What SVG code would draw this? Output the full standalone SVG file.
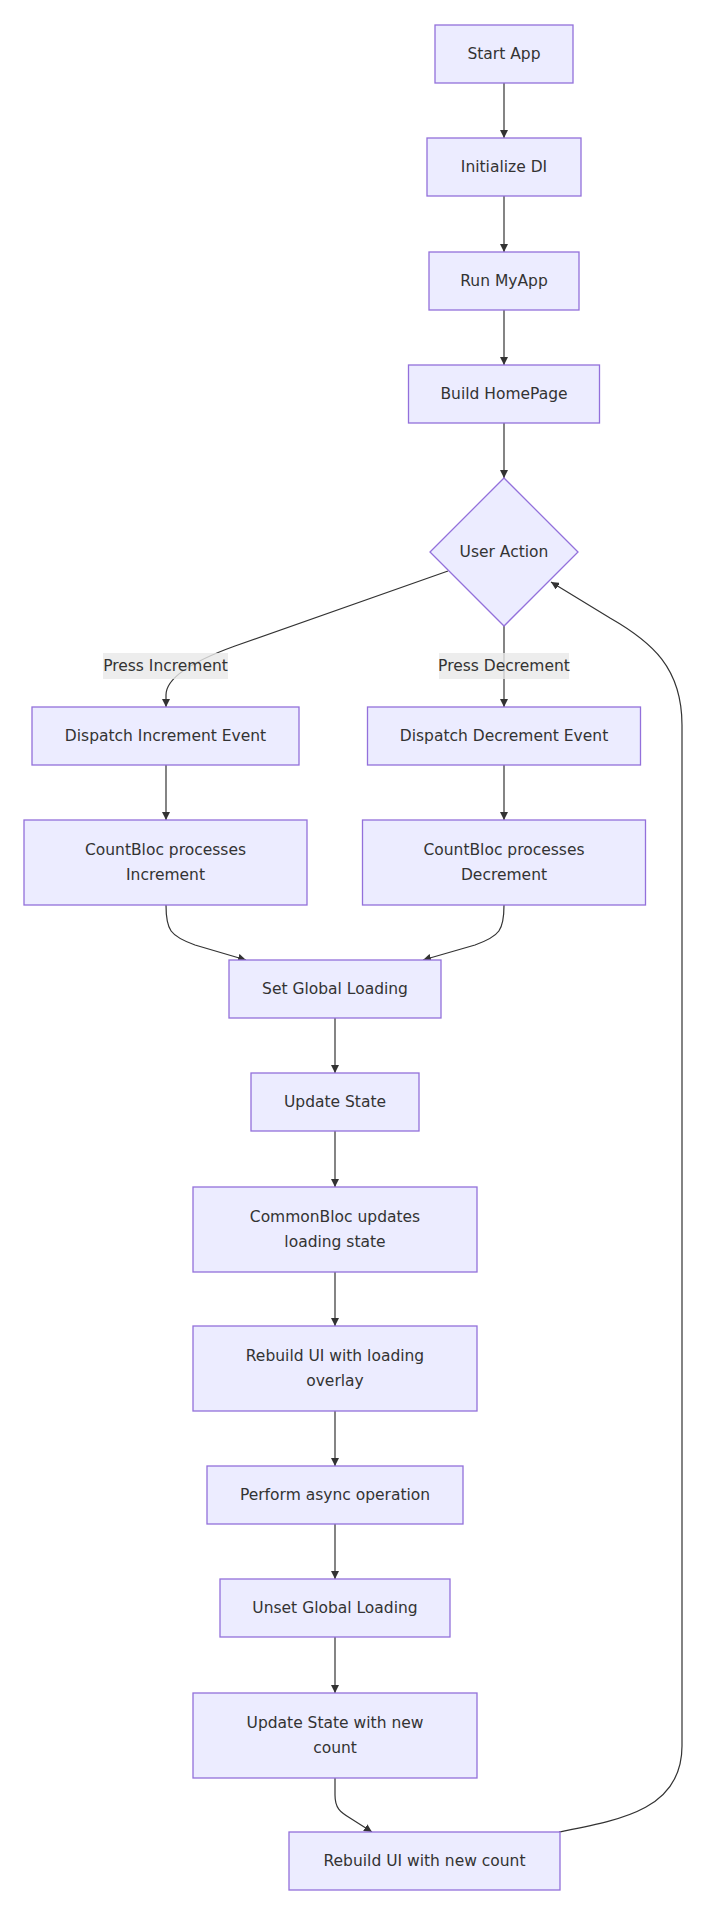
<svg xmlns="http://www.w3.org/2000/svg" width="714" height="1906" viewBox="0 0 714 1906">
<style>
.node rect,.node polygon{fill:#ECECFF;stroke:#9370DB;stroke-width:1.3px;}
.node text,.lbl text{font-family:"DejaVu Sans","Liberation Sans",sans-serif;font-size:15.5px;fill:#333333;text-anchor:middle;}
.edge{fill:none;stroke:#333333;stroke-width:1.2px;}
.lbl rect{fill:#e8e8e8;opacity:0.8;}
</style>
<defs>
<marker id="arr" viewBox="0 0 10 10" refX="10" refY="5" markerWidth="8" markerHeight="8" markerUnits="userSpaceOnUse" orient="auto">
<path d="M0,0 L10,5 L0,10 z" fill="#333333"/>
</marker>
</defs>
<rect width="714" height="1906" fill="#ffffff"/>
<g id="edges">
<path class="edge" marker-end="url(#arr)" d="M504,83 L504,138"/>
<path class="edge" marker-end="url(#arr)" d="M504,196 L504,252"/>
<path class="edge" marker-end="url(#arr)" d="M504,310 L504,365"/>
<path class="edge" marker-end="url(#arr)" d="M504,423 L504,478"/>
<path class="edge" marker-end="url(#arr)" d="M448,571 L235,646 Q166,671 166,695 L166,707"/>
<path class="edge" marker-end="url(#arr)" d="M504,626 L504,707"/>
<path class="edge" marker-end="url(#arr)" d="M166,765 L166,820"/>
<path class="edge" marker-end="url(#arr)" d="M504,765 L504,820"/>
<path class="edge" marker-end="url(#arr)" d="M166,905 C166,930 170,936 195,945 L246,960"/>
<path class="edge" marker-end="url(#arr)" d="M504,905 C504,930 500,936 475,945 L423,960"/>
<path class="edge" marker-end="url(#arr)" d="M335,1018 L335,1073"/>
<path class="edge" marker-end="url(#arr)" d="M335,1131 L335,1187"/>
<path class="edge" marker-end="url(#arr)" d="M335,1272 L335,1326"/>
<path class="edge" marker-end="url(#arr)" d="M335,1411 L335,1466"/>
<path class="edge" marker-end="url(#arr)" d="M335,1524 L335,1579"/>
<path class="edge" marker-end="url(#arr)" d="M335,1637 L335,1693"/>
<path class="edge" marker-end="url(#arr)" d="M335,1778 L335,1795 C335,1808 340,1812 350,1818 L372,1832"/>
<path class="edge" marker-end="url(#arr)" d="M559,1832 C620,1820 682,1810 682,1746 L682,725 C682,668 652,642 610,618 L551,582"/>
</g>
<g class="lbl" id="label-inc"><rect x="103" y="653" width="125" height="26"/><text x="165.5" y="671">Press Increment</text></g>
<g class="lbl" id="label-dec"><rect x="439" y="653" width="130" height="26"/><text x="504" y="671">Press Decrement</text></g>
<g class="node" id="start"><rect x="435" y="25" width="138" height="58"/><text x="504" y="59">Start App</text></g>
<g class="node" id="init"><rect x="427" y="138" width="154" height="58"/><text x="504" y="172">Initialize DI</text></g>
<g class="node" id="run"><rect x="429" y="252" width="150" height="58"/><text x="504" y="286">Run MyApp</text></g>
<g class="node" id="build"><rect x="408.5" y="365" width="191" height="58"/><text x="504" y="399">Build HomePage</text></g>
<g class="node" id="action"><polygon points="504,478 578,552 504,626 430,552"/><text x="504" y="557">User Action</text></g>
<g class="node" id="dispInc"><rect x="32" y="707" width="267" height="58"/><text x="165.5" y="741">Dispatch Increment Event</text></g>
<g class="node" id="dispDec"><rect x="367.5" y="707" width="273" height="58"/><text x="504" y="741">Dispatch Decrement Event</text></g>
<g class="node" id="cbInc"><rect x="24" y="820" width="283" height="85"/><text x="165.5" y="855">CountBloc processes</text><text x="165.5" y="880">Increment</text></g>
<g class="node" id="cbDec"><rect x="362.5" y="820" width="283" height="85"/><text x="504" y="855">CountBloc processes</text><text x="504" y="880">Decrement</text></g>
<g class="node" id="setGL"><rect x="229" y="960" width="212" height="58"/><text x="335" y="994">Set Global Loading</text></g>
<g class="node" id="upd"><rect x="251" y="1073" width="168" height="58"/><text x="335" y="1107">Update State</text></g>
<g class="node" id="common"><rect x="193" y="1187" width="284" height="85"/><text x="335" y="1222">CommonBloc updates</text><text x="335" y="1247">loading state</text></g>
<g class="node" id="rebuildLoad"><rect x="193" y="1326" width="284" height="85"/><text x="335" y="1361">Rebuild UI with loading</text><text x="335" y="1386">overlay</text></g>
<g class="node" id="perform"><rect x="207" y="1466" width="256" height="58"/><text x="335" y="1500">Perform async operation</text></g>
<g class="node" id="unset"><rect x="220" y="1579" width="230" height="58"/><text x="335" y="1613">Unset Global Loading</text></g>
<g class="node" id="updNew"><rect x="193" y="1693" width="284" height="85"/><text x="335" y="1728">Update State with new</text><text x="335" y="1753">count</text></g>
<g class="node" id="rebuildNew"><rect x="289" y="1832" width="271" height="58"/><text x="424.5" y="1866">Rebuild UI with new count</text></g>
</svg>
